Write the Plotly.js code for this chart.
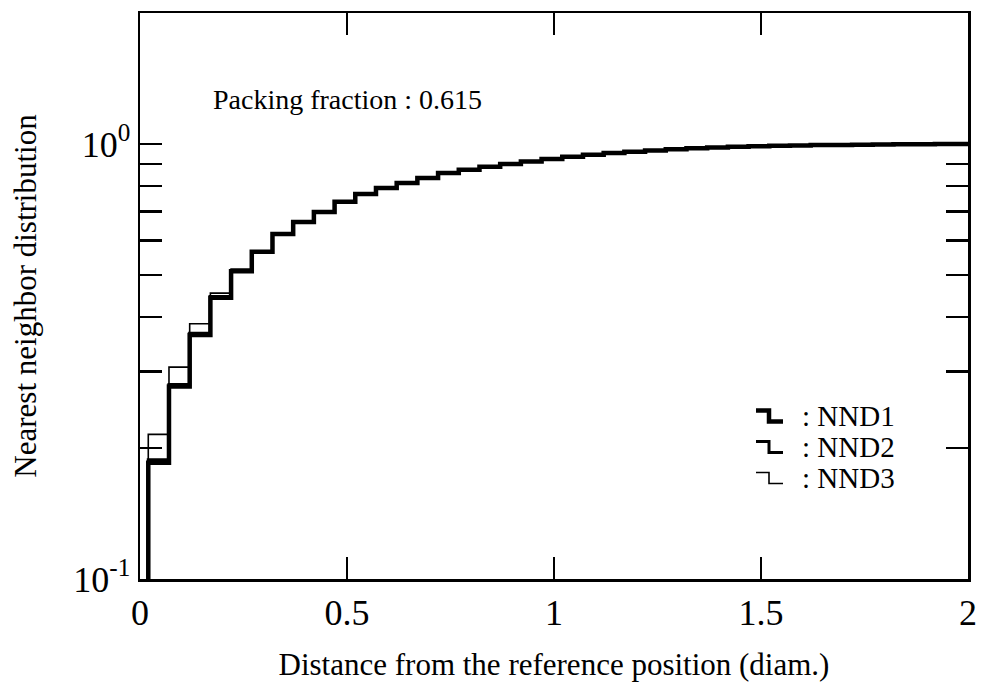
<!DOCTYPE html>
<html>
<head>
<meta charset="utf-8">
<script src="https://cdn.plot.ly/plotly-3.0.1.min.js"></script>
<style>
  html, body { margin: 0; padding: 0; background: #ffffff; }
  #chart { width: 983px; height: 690px; }
</style>
</head>
<body>
<div id="chart"></div>
<script>
// ---- Data ----
// Left edges of the histogram bins (diam.)
const binStarts = [
  0.02, 0.07, 0.12, 0.17, 0.22, 0.27, 0.32, 0.37, 0.42, 0.47,
  0.52, 0.57, 0.62, 0.67, 0.72, 0.77, 0.82, 0.87, 0.92, 0.97,
  1.02, 1.07, 1.12, 1.17, 1.22, 1.27, 1.32, 1.37, 1.42, 1.47,
  1.52, 1.57, 1.62, 1.67, 1.72, 1.77, 1.82, 1.87, 1.92, 1.97, 2.02
];
// Level from which the first step rises (below the axis floor)
const baseLevel = 0.05;

const nnd1 = [
  0.185, 0.277, 0.364, 0.443, 0.510, 0.565, 0.621, 0.662, 0.698, 0.736,
  0.767, 0.792, 0.813, 0.835, 0.858, 0.872, 0.886, 0.899, 0.911, 0.923,
  0.934, 0.944, 0.953, 0.960, 0.966, 0.972, 0.977, 0.981, 0.985, 0.988,
  0.990, 0.992, 0.994, 0.995, 0.996, 0.997, 0.998, 0.999, 1.000, 1.000, 1.000
];
const nnd2 = [
  0.188, 0.280, 0.367, 0.446, 0.512, 0.566, 0.622, 0.663, 0.699, 0.737,
  0.768, 0.793, 0.814, 0.836, 0.858, 0.872, 0.886, 0.899, 0.911, 0.923,
  0.934, 0.944, 0.953, 0.960, 0.966, 0.972, 0.977, 0.981, 0.985, 0.988,
  0.990, 0.992, 0.994, 0.995, 0.996, 0.997, 0.998, 0.999, 1.000, 1.000, 1.000
];
const nnd3 = [
  0.215, 0.307, 0.386, 0.454, 0.516, 0.568, 0.623, 0.664, 0.700, 0.737,
  0.768, 0.793, 0.814, 0.836, 0.858, 0.872, 0.886, 0.899, 0.911, 0.923,
  0.934, 0.944, 0.953, 0.960, 0.966, 0.972, 0.977, 0.981, 0.985, 0.988,
  0.990, 0.992, 0.994, 0.995, 0.996, 0.997, 0.998, 0.999, 1.000, 1.000, 1.000
];

const seriesNames = ["NND1", "NND2", "NND3"];
const xTickVals = [0, 0.5, 1, 1.5, 2];
const xTickText = ["0", "0.5", "1", "1.5", "2"];
const yTickVals = [0.1, 1];
const yTickText = ["10<sup>-1</sup>", "10<sup>0</sup>"];
const minorTickVals = [0.2, 0.3, 0.4, 0.5, 0.6, 0.7, 0.8, 0.9];
const annotationText = "Packing fraction : 0.615";
const xTitle = "Distance from the reference position (diam.)";
const yTitle = "Nearest neighbor distribution";

// ---- Layout geometry ----
const W = 983, H = 690;
const M = { l: 140, r: 15, t: 13, b: 111 };
const PW = W - M.l - M.r, PH = H - M.t - M.b;
const px2x = (px) => (px - M.l) / PW;          // paper x from pixel
const py2y = (py) => 1 - (py - M.t) / PH;      // paper y from pixel

const FONT = "Liberation Serif, Times New Roman, serif";
const widths = [4.5, 3, 1.6];
const series = [nnd1, nnd2, nnd3];

const traces = series.map((vals, i) => ({
  type: "scatter",
  mode: "lines",
  x: [binStarts[0]].concat(binStarts),
  y: [baseLevel].concat(vals),
  line: { shape: "hv", color: "#000000", width: widths[i] },
  name: seriesNames[i],
  showlegend: false,
  hoverinfo: "skip"
}));

// Legend glyphs (step symbols) drawn as paper shapes
const legendRows = [416, 447, 478];
const glyph = { x0: 756, xm: 769, x1: 783, h: 11 };
const shapes = [];
legendRows.forEach((cy, i) => {
  const top = cy - glyph.h / 2, bot = cy + glyph.h / 2;
  shapes.push({
    type: "path", xref: "paper", yref: "paper",
    path: "M" + px2x(glyph.x0) + "," + py2y(top) +
          " L" + px2x(glyph.xm) + "," + py2y(top) +
          " L" + px2x(glyph.xm) + "," + py2y(bot) +
          " L" + px2x(glyph.x1) + "," + py2y(bot),
    line: { color: "#000", width: widths[i] }
  });
});

const annotations = [
  {
    text: annotationText, xref: "paper", yref: "paper",
    x: px2x(211), y: py2y(100), xanchor: "left", yanchor: "middle",
    showarrow: false, font: { family: FONT, size: 28, color: "#000" }
  }
];
legendRows.forEach((cy, i) => {
  annotations.push({
    text: ": " + seriesNames[i], xref: "paper", yref: "paper",
    x: px2x(800), y: py2y(cy), xanchor: "left", yanchor: "middle",
    showarrow: false, font: { family: FONT, size: 29, color: "#000" }
  });
});

const axisCommon = {
  showgrid: false, zeroline: false, showline: true, linecolor: "#000",
  linewidth: 2.5, mirror: "allticks", ticks: "inside", tickcolor: "#000",
  tickwidth: 2.5, ticklen: 22
};

const layout = {
  width: W, height: H,
  margin: M,
  paper_bgcolor: "#ffffff",
  plot_bgcolor: "#ffffff",
  showlegend: false,
  font: { family: FONT, color: "#000", size: 24 },
  xaxis: Object.assign({}, axisCommon, {
    range: [0, 2],
    tickmode: "array", tickvals: xTickVals, ticktext: xTickText,
    tickfont: { family: FONT, size: 36 },
    title: { text: xTitle, font: { family: FONT, size: 31 }, standoff: 22 }
  }),
  yaxis: Object.assign({}, axisCommon, {
    type: "log",
    range: [-1, Math.log10(2)],
    tickmode: "array", tickvals: yTickVals, ticktext: yTickText,
    tickfont: { family: FONT, size: 36 },
    title: { text: yTitle, font: { family: FONT, size: 31 }, standoff: 28 },
    minor: { tickmode: "array", tickvals: minorTickVals, ticks: "inside",
             ticklen: 22, tickwidth: 2.5, tickcolor: "#000", showgrid: false }
  }),
  shapes: shapes,
  annotations: annotations
};

Plotly.newPlot("chart", traces, layout, { displayModeBar: false, staticPlot: true });
</script>
</body>
</html>
